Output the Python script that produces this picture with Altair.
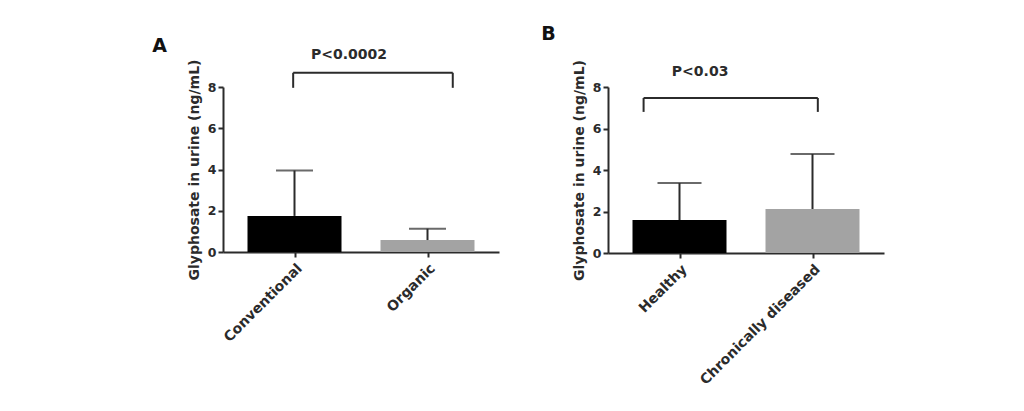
import altair as alt
import pandas as pd

# Panel A
groups_a = ["Conventional", "Organic"]
pos_a = [0.5, 1.5]
mean_a = [1.75, 0.58]
upper_a = [3.95, 1.13]
colors_a = ["#000000", "#a3a3a3"]
bracket_a_x = [0.49, 1.69]
bracket_a_y = [8.69, 7.96]
ptext_a = "P<0.0002"
ptext_a_pos = [0.91, 9.55]

# Panel B
groups_b = ["Healthy", "Chronically diseased"]
pos_b = [0.5, 1.5]
mean_b = [1.59, 2.12]
upper_b = [3.37, 4.77]
colors_b = ["#000000", "#a3a3a3"]
bracket_b_x = [0.23, 1.54]
bracket_b_y = [7.47, 6.8]
ptext_b = "P<0.03"
ptext_b_pos = [0.655, 8.72]

FONT = "DejaVu Sans"
AXC = "#2b2b2b"


def panel(letter, groups, pos, mean, upper, colors, bx, by, ptext, ppos, cap, height, tdx, tdy):
    df = pd.DataFrame({"g": groups, "pos": pos, "mean": mean, "upper": upper, "color": colors})
    label_expr = " : ".join(
        [f"datum.value == {p} ? '{g}'" for p, g in zip(pos, groups)]
    ) + " : ''"
    xs = alt.Scale(domain=[0, 2], nice=False, zero=False)
    ys = alt.Scale(domain=[0, 8], nice=False)
    x = alt.X("pos:Q", scale=xs, axis=alt.Axis(values=pos, labelExpr=label_expr, title=None,
                                                labelAngle=-45, grid=False, labelPadding=4,
                                                labelFontSize=14))
    y = alt.Y("mean:Q", scale=ys, axis=alt.Axis(values=[0, 2, 4, 6, 8], title="Glyphosate in urine (ng/mL)",
                                                 grid=False, titlePadding=6))
    bars = alt.Chart(df).mark_bar(size=94).encode(x=x, y=y, color=alt.Color("color:N", scale=None))
    err = alt.Chart(df).mark_rule(color=AXC, strokeWidth=2).encode(
        x="pos:Q", y="mean:Q", y2="upper:Q")
    caps = alt.Chart(df).mark_tick(color=AXC, thickness=2, size=cap, orient="horizontal").encode(
        x="pos:Q", y="upper:Q")
    br_h = pd.DataFrame({"x": [bx[0]], "x2": [bx[1]], "y": [by[0]]})
    br_v = pd.DataFrame({"x": bx, "y": [by[0], by[0]], "y2": [by[1], by[1]]})
    bh = alt.Chart(br_h).mark_rule(color=AXC, strokeWidth=2).encode(x="x:Q", x2="x2:Q", y="y:Q")
    bv = alt.Chart(br_v).mark_rule(color=AXC, strokeWidth=2).encode(x="x:Q", y="y:Q", y2="y2:Q")
    tdf = pd.DataFrame({"x": [ppos[0]], "y": [ppos[1]], "t": [ptext]})
    txt = alt.Chart(tdf).mark_text(font=FONT, fontWeight="bold", fontSize=14, color=AXC).encode(
        x="x:Q", y="y:Q", text="t:N")
    return alt.layer(bars, err, caps, bh, bv, txt).properties(
        width=276, height=height,
        title=alt.TitleParams(letter, anchor="start", fontSize=19, fontWeight="bold", font=FONT,
                              color="#111", dx=tdx, dy=tdy, offset=20),
    )


pa = panel("A", groups_a, pos_a, mean_a, upper_a, colors_a, bracket_a_x, bracket_a_y,
           ptext_a, ptext_a_pos, 37, 165, -35, 28)
pb = panel("B", groups_b, pos_b, mean_b, upper_b, colors_b, bracket_b_x, bracket_b_y,
           ptext_b, ptext_b_pos, 44, 166, -31, 4)

chart = alt.hconcat(pa, pb, spacing=42).properties(
    padding={"left": 144, "top": 16, "right": 10, "bottom": 5}
).configure_view(stroke=None).configure_axis(
    labelFont=FONT, labelFontWeight="bold", labelFontSize=12.5, labelColor=AXC,
    titleFont=FONT, titleFontWeight="bold", titleFontSize=14, titleColor=AXC,
    domainColor=AXC, domainWidth=2, tickColor=AXC, tickWidth=2, tickSize=5,
)

chart.save("out.html", embed_options={"renderer": "svg", "actions": False})
